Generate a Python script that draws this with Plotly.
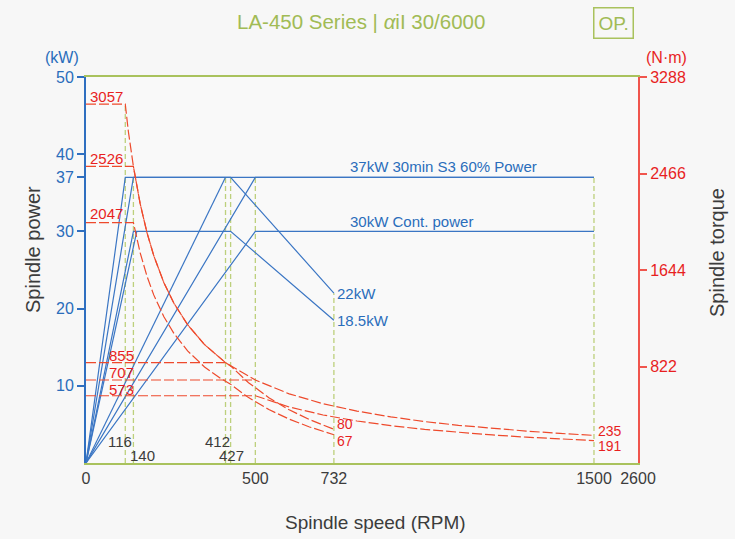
import plotly.graph_objects as go

# ---------------- data ----------------
X_TICK_VALS = [0, 500, 732, 1500, 1630]
X_TICK_TEXT = ["0", "500", "732", "1500", "2600"]
Y_TICK_VALS = [10, 20, 30, 37, 40, 50]
Y2_TICK_VALS = [822, 1644, 2466, 3288]

# power lines (rpm, kW)
P_S3_LOW_RPM = [0, 116, 427, 732]
P_S3_LOW_KW = [0, 37, 37, 22]
P_S3_B_RPM = [0, 140, 1500]
P_S3_B_KW = [0, 37, 37]
P_CONT_LOW_RPM = [0, 140, 427, 732]
P_CONT_LOW_KW = [0, 30, 30, 18.5]
P_EXTRA_RPM = [0, 150]
P_EXTRA_KW = [0, 30]
P_S3_HI1_RPM = [0, 412]
P_S3_HI1_KW = [0, 37]
P_S3_HI2_RPM = [0, 500, 1500]
P_S3_HI2_KW = [0, 37, 37]
P_CONT_HI_RPM = [0, 500, 1500]
P_CONT_HI_KW = [0, 30, 30]

# torque curves (rpm, N·m)
T1_RPM = [0, 116, 125, 140, 160, 180, 200, 230, 260, 300, 350, 412, 427, 480, 540, 600, 660, 732]
T1_NM = [3057, 3057, 2826, 2526, 2208, 1963, 1767, 1536, 1359, 1178, 1009, 855, 827, 684, 556, 453, 370, 287]
T2_RPM = [0, 140, 160, 180, 200, 230, 260, 300, 350, 412, 500, 600, 700, 800, 900, 1000, 1100, 1200, 1300, 1400, 1500]
T2_NM = [2526, 2526, 2208, 1963, 1767, 1536, 1359, 1178, 1009, 855, 707, 589, 505, 442, 393, 353, 321, 294, 272, 252, 235]
T3_RPM = [0, 140, 160, 180, 200, 230, 260, 300, 350, 400, 427, 480, 540, 600, 660, 732]
T3_NM = [2047, 2047, 1790, 1592, 1432, 1246, 1102, 955, 818, 716, 671, 557, 455, 374, 307, 241]
T4_RPM = [0, 500, 600, 700, 800, 900, 1000, 1100, 1200, 1300, 1400, 1500]
T4_NM = [573, 573, 477, 409, 358, 318, 286, 260, 239, 220, 205, 191]
T5_RPM = [0, 412]
T5_NM = [855, 855]
T6_RPM = [0, 500]
T6_NM = [707, 707]

# green guide verticals
V_RPM = [116, 140, 412, 427, 500, 732, 1500]
V_TOP_KW = [46.5, 37, 37, 37, 37, 22, 37]

# ---------------- styles ----------------
BLUE = "#3b76c4"
BLUE_TXT = "#2a6dbb"
RED_AX = "#f0554d"
RED_TXT = "#e81f1f"
RED_LN = "#ee4a2c"
GREEN = "#a9c25d"
GREEN_DASH = "#bdd07c"
GREEN_TXT = "#a1bb55"
DARK = "#3c3c3c"
FONT = "Liberation Sans, Arial, sans-serif"

fig = go.Figure()

for r, k in zip(V_RPM, V_TOP_KW):
    fig.add_trace(go.Scatter(x=[r, r], y=[0, k], mode="lines",
                             line=dict(color=GREEN_DASH, width=1.3, dash="5px,3px"),
                             hoverinfo="skip", showlegend=False))

for xs, ys in [(P_S3_LOW_RPM, P_S3_LOW_KW), (P_S3_B_RPM, P_S3_B_KW),
               (P_CONT_LOW_RPM, P_CONT_LOW_KW), (P_EXTRA_RPM, P_EXTRA_KW),
               (P_S3_HI1_RPM, P_S3_HI1_KW), (P_S3_HI2_RPM, P_S3_HI2_KW),
               (P_CONT_HI_RPM, P_CONT_HI_KW)]:
    fig.add_trace(go.Scatter(x=xs, y=ys, mode="lines",
                             line=dict(color=BLUE, width=1.2),
                             showlegend=False))

for xs, ys in [(T1_RPM, T1_NM), (T2_RPM, T2_NM), (T3_RPM, T3_NM),
               (T4_RPM, T4_NM), (T5_RPM, T5_NM), (T6_RPM, T6_NM)]:
    fig.add_trace(go.Scatter(x=xs, y=ys, mode="lines", yaxis="y2",
                             line=dict(color=RED_LN, width=1.2, dash="10px,3px"),
                             showlegend=False))

# plot area in pixels
L, R, T, B = 86, 638, 77, 463
W, H = 735, 539


def px(xp, yp):
    return dict(xref="paper", yref="paper",
                x=(xp - L) / (R - L), y=(B - yp) / (B - T))


anns = []


def add(text, xp, yp, color, size=15, xanchor="center", yanchor="middle", **kw):
    d = px(xp, yp)
    d.update(text=text, showarrow=False, xanchor=xanchor, yanchor=yanchor,
             font=dict(family=FONT, size=size, color=color))
    d.update(kw)
    anns.append(d)


# title
add("LA-450 Series | <i>α</i>iI 30/6000", 361, 22, GREEN_TXT, size=20.5)
add("OP.", 613, 23, GREEN_TXT, size=19, bordercolor=GREEN, borderwidth=1.5, borderpad=4)
add("(kW)", 62, 57, BLUE_TXT, size=16)
add("(N·m)", 666, 57, RED_TXT, size=16)
add("Spindle power", 33, 250, DARK, size=20, textangle=-90)
add("Spindle torque", 717, 253, DARK, size=20, textangle=-90)
add("Spindle speed (RPM)", 375, 522, DARK, size=19)

# red labels
add("3057", 88, 97, RED_TXT, xanchor="left")
add("2526", 88, 158, RED_TXT, xanchor="left")
add("2047", 88, 213, RED_TXT, xanchor="left")
add("855", 107, 355, RED_TXT, xanchor="left")
add("707", 107, 372, RED_TXT, xanchor="left")
add("573", 107, 389, RED_TXT, xanchor="left")
add("80", 335, 424, RED_TXT, size=14, xanchor="left")
add("67", 335, 440.5, RED_TXT, size=14, xanchor="left")
add("235", 596, 430.5, RED_TXT, size=14, xanchor="left")
add("191", 596, 446, RED_TXT, size=14, xanchor="left")

# blue labels
add("37kW 30min S3 60% Power", 348, 166, BLUE_TXT, xanchor="left")
add("30kW Cont. power", 348, 221, BLUE_TXT, xanchor="left")
add("22kW", 335, 293, BLUE_TXT, xanchor="left")
add("18.5kW", 335, 320, BLUE_TXT, xanchor="left")

# rpm labels
add("116", 120, 441, DARK)
add("140", 142, 455, DARK)
add("412", 217, 441, DARK)
add("427", 231, 455, DARK)

fig.update_layout(
    width=W, height=H,
    margin=dict(l=L, r=W - R, t=T, b=H - B),
    paper_bgcolor="#f7f7f7", plot_bgcolor="#f9f9f9",
    font=dict(family=FONT, size=16, color=DARK),
    showlegend=False,
    xaxis=dict(range=[0, 1630], tickvals=X_TICK_VALS, ticktext=X_TICK_TEXT,
               showgrid=False, zeroline=False, showline=True, linecolor=GREEN,
               linewidth=2, mirror=True, ticks="", tickfont=dict(size=16, color=DARK)),
    yaxis=dict(range=[0, 50], tickvals=Y_TICK_VALS, showgrid=False, zeroline=False,
               showline=True, linecolor="#2f6fc0", linewidth=2, ticks="outside",
               ticklen=7, tickwidth=1.5, tickcolor="#2f6fc0",
               tickfont=dict(size=16, color=BLUE_TXT)),
    yaxis2=dict(range=[0, 3288], tickvals=Y2_TICK_VALS, overlaying="y", side="right",
                showgrid=False, zeroline=False, showline=True, linecolor=RED_AX,
                linewidth=2, ticks="outside", ticklen=7, tickwidth=1.5, tickcolor=RED_AX,
                tickfont=dict(size=16, color=RED_TXT)),
    annotations=anns,
)

fig.write_html("out.html")
